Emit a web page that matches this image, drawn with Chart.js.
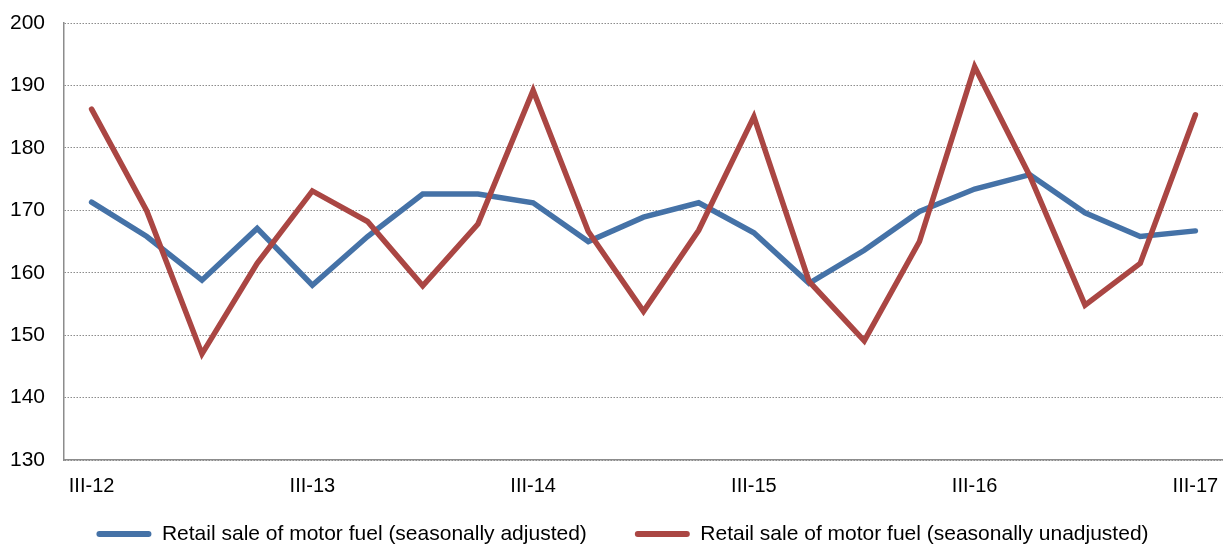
<!DOCTYPE html>
<html>
<head>
<meta charset="utf-8">
<script src="https://cdn.jsdelivr.net/npm/chart.js@4/dist/chart.umd.min.js"></script>
<style>
html,body{margin:0;padding:0;background:#fff;overflow:hidden}
#wrap{width:1223px;height:545px;position:relative}
</style>
</head>
<body>
<div id="wrap"><canvas id="c"></canvas></div>
<script>
// Quarterly categories (III, VI, IX, XII of each year 2012-2017)
const categories = [
  "III-12","VI-12","IX-12","XII-12",
  "III-13","VI-13","IX-13","XII-13",
  "III-14","VI-14","IX-14","XII-14",
  "III-15","VI-15","IX-15","XII-15",
  "III-16","VI-16","IX-16","XII-16",
  "III-17"
];
const adjusted = [171.3,165.8,158.8,167.1,158.0,165.8,172.6,172.6,171.2,165.0,168.9,171.2,166.4,158.3,163.6,169.8,173.4,175.7,169.6,165.8,166.7];
const unadjusted = [186.2,169.9,147.0,161.5,173.1,168.2,157.9,167.8,189.2,166.6,153.8,166.8,185.0,158.6,149.1,165.0,193.0,175.5,154.8,161.5,185.3];
const seriesNames = [
  "Retail sale of motor fuel (seasonally adjusted)",
  "Retail sale of motor fuel (seasonally unadjusted)"
];
const yMin = 130, yMax = 200, yStep = 10;
const labelEvery = 4;

const BLUE = '#4572A7', RED = '#AA4643';
const FONT = "'Liberation Sans', Arial, sans-serif";
const LEG_PAD = 48;

new Chart(document.getElementById('c'), {
  type: 'line',
  data: {
    labels: categories,
    datasets: [
      { label: seriesNames[0], data: adjusted, borderColor: BLUE, backgroundColor: BLUE,
        borderWidth: 5.5, pointRadius: 0, tension: 0, fill: false,
        borderJoinStyle: 'miter', borderCapStyle: 'round', order: 1 },
      { label: seriesNames[1], data: unadjusted, borderColor: RED, backgroundColor: RED,
        borderWidth: 5.5, pointRadius: 0, tension: 0, fill: false,
        borderJoinStyle: 'miter', borderCapStyle: 'round', order: 0 }
    ]
  },
  options: {
    responsive: true,
    maintainAspectRatio: false,
    animation: false,
    layout: { padding: { top: 23, right: 0, left: 0, bottom: -9.5 } },
    plugins: {
      tooltip: { enabled: false },
      legend: {
        position: 'bottom',
        labels: {
          font: { family: FONT, size: 21 },
          color: '#000',
          boxWidth: 55,
          boxHeight: 6,
          padding: LEG_PAD,
          useBorderRadius: true,
          borderRadius: 3,
          generateLabels(chart) {
            const items = Chart.defaults.plugins.legend.labels.generateLabels(chart);
            items.forEach(i => { i.lineWidth = 0; i.fillStyle = i.strokeStyle; });
            return items.sort((a, b) => a.datasetIndex - b.datasetIndex);
          }
        }
      }
    },
    scales: {
      x: {
        offset: true,
        grid: { display: false, drawTicks: false },
        border: { display: true, color: '#8c8c8c', width: 1.5 },
        ticks: {
          autoSkip: false, maxRotation: 0, minRotation: 0,
          padding: 14,
          color: '#000',
          font: { family: FONT, size: 20 },
          callback(v, i) { return i % labelEvery === 0 ? categories[i] : ''; }
        },
        afterFit(s) {
          s.height = 63.5 - LEG_PAD;
          s.paddingLeft = 0; s.paddingRight = 0;
          s._computeLabelArea = () => undefined;
        }
      },
      y: {
        min: yMin, max: yMax,
        grid: { color: '#8c8c8c', lineWidth: 1, drawTicks: false },
        border: { display: true, color: '#8c8c8c', width: 1.5, dash: [1.5, 1.5] },
        ticks: {
          stepSize: yStep, padding: 19, color: '#000',
          font: { family: FONT, size: 21 }
        },
        afterFit(s) { s.width = 64; s.paddingTop = 0; s.paddingBottom = 0; }
      }
    }
  },
  plugins: [{
    id: 'legendShift',
    afterLayout(chart) {
      if (chart.legend) { chart.legend.left += 11; chart.legend.right += 11; }
    }
  }]
});
</script>
</body>
</html>
